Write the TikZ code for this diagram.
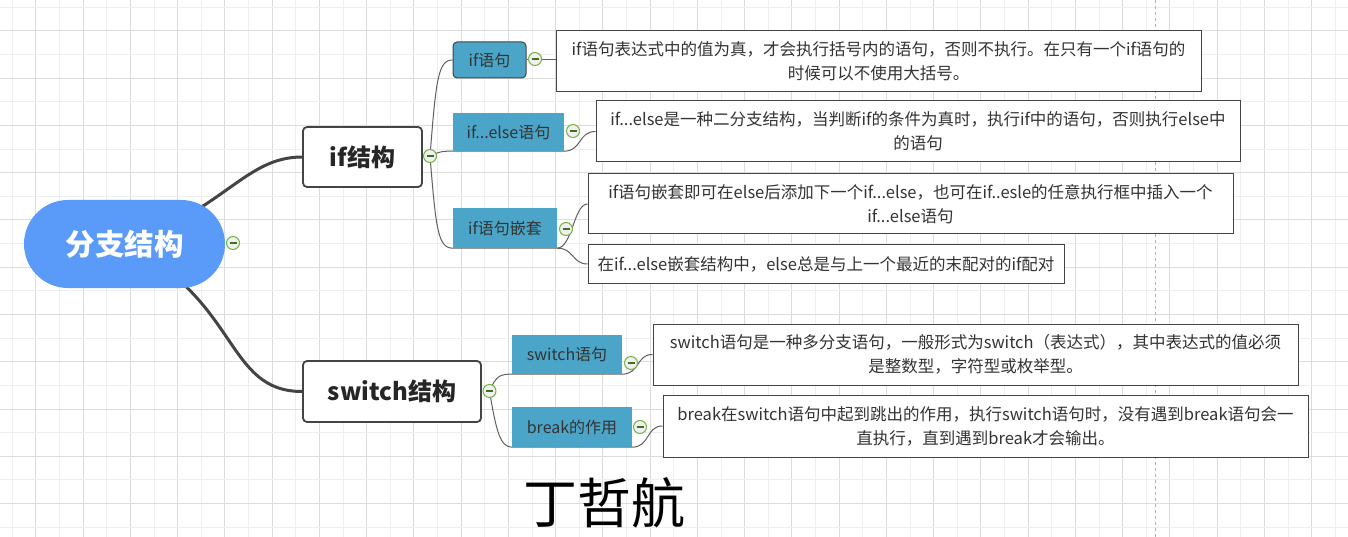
\documentclass[tikz,border=0pt]{standalone}
\usepackage{fontspec}
\setmainfont{Noto Sans CJK SC}
\usepackage{tikz}
\usetikzlibrary{calc}
\definecolor{rootblue}{RGB}{90,155,250}
\definecolor{subteal}{RGB}{75,165,200}
\definecolor{linkgray}{RGB}{68,68,68}
\definecolor{textgray}{RGB}{51,51,51}
\definecolor{gridlo}{RGB}{238,238,238}
\definecolor{gridhi}{RGB}{220,220,220}
\definecolor{foldgreen}{RGB}{112,182,62}
\pgfdeclarelayer{paper}
\pgfdeclarelayer{links}
\pgfsetlayers{paper,links,main}

\begin{document}
\begin{tikzpicture}[x=1pt,y=-1pt,
  rootnode/.style={fill=rootblue, text=white, rounded corners=44pt, minimum width=201pt, minimum height=88pt, inner sep=0pt, font=\fontsize{29.5}{31}\selectfont\bfseries},
  topnode/.style={draw=linkgray, line width=1.8pt, fill=white, rounded corners=4pt, text=black!85, inner sep=0pt, minimum height=60pt, font=\fontsize{24}{26}\selectfont\bfseries},
  subnode/.style={fill=subteal, text=textgray, inner sep=0pt, minimum height=38pt, font=\fontsize{16}{18}\selectfont},
  note/.style={draw=linkgray, line width=1pt, fill=white, text=textgray, align=center, inner sep=0pt, minimum width=645pt, minimum height=61pt, font=\fontsize{16.5}{24}\selectfont},
  fold/.style={circle, draw=foldgreen, line width=1pt, fill=gray!12, minimum size=13pt, inner sep=0pt,
    path picture={\draw[foldgreen!60!black, line width=1.2pt] ([xshift=-3.5pt]path picture bounding box.center) -- ([xshift=3.5pt]path picture bounding box.center);}},
  bigbranch/.style={draw=linkgray, line width=3pt},
  smallbranch/.style={draw=linkgray!85, line width=1pt}]

  \useasboundingbox (0,0) rectangle (1348,537);
  \begin{pgfonlayer}{paper}
    \fill[white] (0,0) rectangle (1348,537);
    \foreach \k in {0,2,...,56} \draw[gridlo, line width=1pt] ({12.3+23.625*\k},0) -- ++(0,537);
    \foreach \k in {1,3,...,55} \draw[gridhi, line width=1pt] ({12.3+23.625*\k},0) -- ++(0,537);
    \foreach \k in {0,2,...,22} \draw[gridlo, line width=1pt] (0,{7.3+23.63*\k}) -- ++(1348,0);
    \foreach \k in {1,3,...,21} \draw[gridhi, line width=1pt] (0,{7.3+23.63*\k}) -- ++(1348,0);
    \draw[gray!60, dashed, line width=1pt] (1155,0) -- (1155,537);
  \end{pgfonlayer}

  \node[rootnode] (root) at (124.5,244) {分支结构};
  \node[topnode, minimum width=119pt] (ifpart) at (362.5,157) {if结构};
  \node[topnode, minimum width=178pt, minimum height=61pt] (swpart) at (392,391.5) {switch结构};

  \node[subnode, draw=linkgray, line width=1pt, rounded corners=4pt, minimum width=73pt, minimum height=36pt] (ifone) at (489.5,60) {if语句};
  \node[subnode, minimum width=111pt] (ifelse) at (508.5,132) {if...else语句};
  \node[subnode, minimum width=104pt, minimum height=40pt] (ifnest) at (505,228) {if语句嵌套};
  \node[subnode, minimum width=110pt, minimum height=39pt] (swone) at (567,354.5) {switch语句};
  \node[subnode, minimum width=120pt, minimum height=40pt] (brk) at (572,427) {break的作用};

  \node[note] (ifonenote) at (878.5,61.5) {if语句表达式中的值为真，才会执行括号内的语句，否则不执行。在只有一个if语句的\\时候可以不使用大括号。};
  \node[note, minimum width=644pt] (ifelsenote) at (918,131.5) {if...else是一种二分支结构，当判断if的条件为真时，执行if中的语句，否则执行else中\\的语句};
  \node[note, minimum height=60pt] (nestnote) at (910.5,204) {if语句嵌套即可在else后添加下一个if...else，也可在if..esle的任意执行框中插入一个\\if...else语句};
  \node[note, minimum width=476pt, minimum height=38pt] (pairnote) at (826,264) {在if...else嵌套结构中，else总是与上一个最近的末配对的if配对};
  \node[note] (swnote) at (975.5,354.5) {switch语句是一种多分支语句，一般形式为switch（表达式），其中表达式的值必须\\是整数型，字符型或枚举型。};
  \node[note, minimum height=62pt] (brknote) at (985.5,426) {break在switch语句中起到跳出的作用，执行switch语句时，没有遇到break语句会一\\直执行，直到遇到break才会输出。};

  \node[fold] (rootfold) at (233,243) {};
  \node[fold] (iffold) at (430,156) {};
  \node[fold] (swfold) at (489.5,391) {};
  \node[fold] (ifonefold) at (535,59) {};
  \node[fold] (ifelsefold) at (573,131) {};
  \node[fold] (nestfold) at (566,229) {};
  \node[fold] (swonefold) at (631,363) {};
  \node[fold] (brkfold) at (640,427) {};

  \node[font=\fontsize{54}{56}\selectfont] (author) at (604,503) {丁哲航};

  \begin{pgfonlayer}{links}
    \draw[bigbranch] (root.center) .. controls (225,210) and (245,157) .. (ifpart.west);
    \draw[bigbranch] (root.center) .. controls (240,300) and (225,391.5) .. (swpart.west);

    \draw[smallbranch] (iffold.center) .. controls (436,80) and (438,60) .. (ifone.west);
    \draw[smallbranch] (ifone.east) -- (ifonenote.west |- ifone.east);
    \draw[smallbranch] (iffold.center) .. controls (440,151) and (445,151) .. (ifelse.south west)
      -- (ifelse.south east) .. controls (582,151) and (578,131.5) .. (ifelsenote.west);
    \draw[smallbranch] (iffold.center) .. controls (436,230) and (438,248) .. (ifnest.south west)
      -- (ifnest.south east) .. controls (572,248) and (574,204) .. (nestnote.west);
    \draw[smallbranch] (ifnest.south east) .. controls (574,248) and (572,264) .. (pairnote.west);

    \draw[smallbranch] (swfold.center) .. controls (496,376) and (500,374) .. (swone.south west)
      -- (swone.south east) .. controls (640,374) and (636,354.5) .. (swnote.west);
    \draw[smallbranch] (swfold.center) .. controls (496,430) and (500,447) .. (brk.south west)
      -- (brk.south east) .. controls (650,447) and (646,426) .. (brknote.west);
  \end{pgfonlayer}
\end{tikzpicture}
\end{document}
